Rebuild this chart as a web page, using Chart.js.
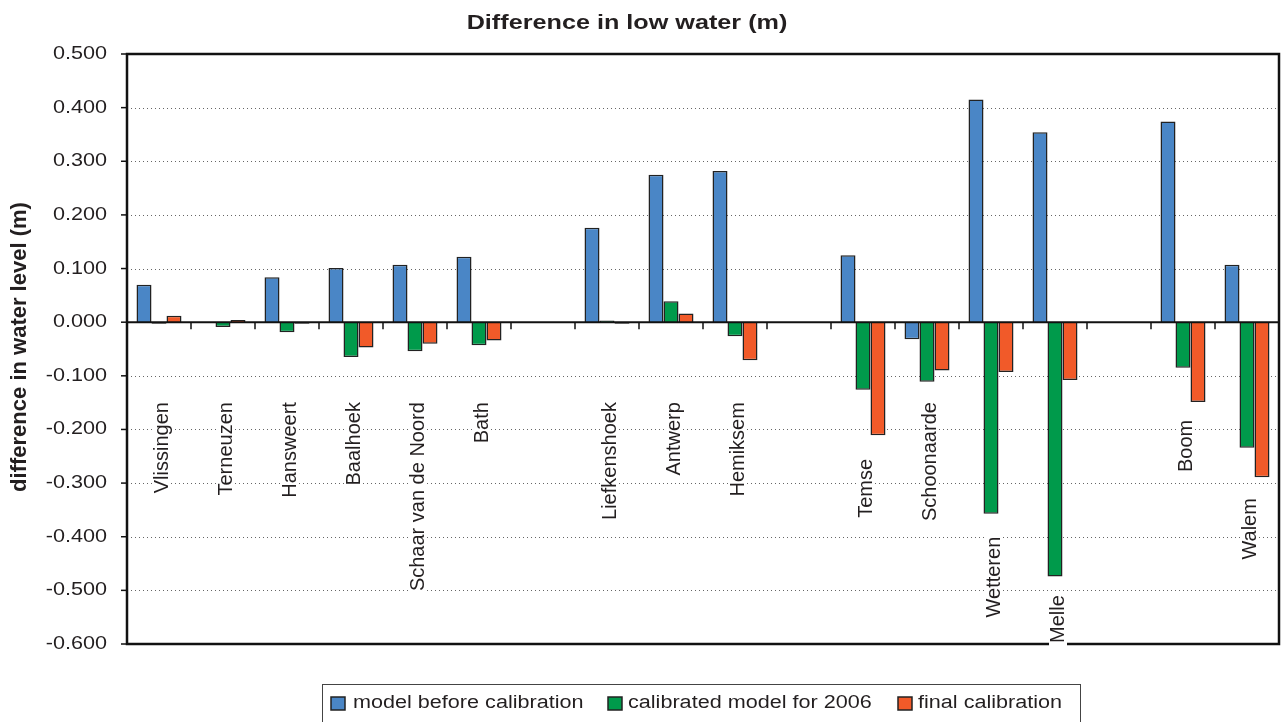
<!DOCTYPE html>
<html>
<head>
<meta charset="utf-8">
<script src="https://cdn.jsdelivr.net/npm/chart.js@4.4.0/dist/chart.umd.min.js"></script>
<style>
  body { margin: 0; background: #fff; }
  #wrap { width: 1281px; height: 722px; position: relative; }
</style>
</head>
<body>
<div id="wrap"><canvas id="lowWater"></canvas></div>
<script>
// stations along the estuary, empty strings are the gaps
const stations = ['Vlissingen', 'Terneuzen', 'Hansweert', 'Baalhoek', 'Schaar van de Noord', 'Bath', '',
    'Liefkenshoek', 'Antwerp', 'Hemiksem', '', 'Temse', 'Schoonaarde', 'Wetteren', 'Melle', '', 'Boom', 'Walem'];

const beforeCal = [0.070, null, 0.084, 0.101, 0.107, 0.122, null, 0.176, 0.275, 0.282, null, 0.125, -0.032, 0.415, 0.354, null, 0.374, 0.107];
const cal2006 = [-0.003, -0.009, -0.019, -0.065, -0.054, -0.043, null, 0.003, 0.039, -0.026, null, -0.126, -0.111, -0.357, -0.474, null, -0.085, -0.234];
const finalCal = [0.012, 0.004, -0.003, -0.047, -0.040, -0.034, null, -0.003, 0.016, -0.071, null, -0.211, -0.090, -0.093, -0.108, null, -0.149, -0.289];

const seriesNames = ['model before calibration', 'calibrated model for 2006', 'final calibration'];
const yTicks = [0.5, 0.4, 0.3, 0.2, 0.1, 0.0, -0.1, -0.2, -0.3, -0.4, -0.5, -0.6];

// where the (rotated) station names end, in axis units
const labelTop = [-0.149, -0.149, -0.149, -0.149, -0.149, -0.149, 0, -0.149, -0.149, -0.149, 0,
    -0.255, -0.149, -0.400, -0.509, 0, -0.182, -0.328];

const colors = ['#4a86c6', '#009a4b', '#f15a29'];
const FONT = '"Liberation Sans", Arial, sans-serif';
const SX = 1.2; // horizontal text in the source is stretched sideways

function stretchText(ctx, text, x, y, font, align, sx, rotate) {
    ctx.save();
    ctx.translate(x, y);
    ctx.scale(sx, 1);
    if (rotate) ctx.rotate(-Math.PI / 2);
    ctx.font = font;
    ctx.textAlign = align;
    ctx.textBaseline = 'middle';
    ctx.fillStyle = '#231f20';
    ctx.fillText(text, 0, 0);
    ctx.restore();
}

const decorations = {
    id: 'decorations',
    beforeDatasetsDraw(chart) {
        const ctx = chart.ctx, a = chart.chartArea, y = chart.scales.y;
        ctx.save();
        ctx.strokeStyle = '#666';
        ctx.lineWidth = 1;
        ctx.setLineDash([1, 3]);
        yTicks.forEach(function(t) {
            if (t === 0 || t === yTicks[0] || t === yTicks[yTicks.length - 1]) return;
            const py = Math.round(y.getPixelForValue(t)) + 0.5;
            ctx.beginPath();
            ctx.moveTo(a.left, py);
            ctx.lineTo(a.right, py);
            ctx.stroke();
        });
        ctx.restore();
    },
    afterDatasetsDraw(chart) {
        const ctx = chart.ctx, a = chart.chartArea, x = chart.scales.x, y = chart.scales.y;
        const zero = y.getPixelForValue(0);
        const cw = (a.right - a.left) / stations.length;

        ctx.save();
        ctx.strokeStyle = '#111';
        // zero line + category ticks
        ctx.lineWidth = 2;
        ctx.beginPath();
        ctx.moveTo(a.left, zero);
        ctx.lineTo(a.right, zero);
        ctx.stroke();
        ctx.lineWidth = 1.5;
        for (let k = 1; k < stations.length; k++) {
            const px = a.left + k * cw;
            ctx.beginPath();
            ctx.moveTo(px, zero);
            ctx.lineTo(px, zero + 7);
            ctx.stroke();
        }
        // frame
        ctx.lineWidth = 2.5;
        ctx.strokeRect(a.left, a.top, a.right - a.left, a.bottom - a.top);
        // y tick marks and labels
        ctx.lineWidth = 1.5;
        yTicks.forEach(function(t) {
            const py = y.getPixelForValue(t);
            ctx.beginPath();
            ctx.moveTo(a.left - 6, py);
            ctx.lineTo(a.left, py);
            ctx.stroke();
            stretchText(ctx, t.toFixed(3), 107, py, '18px ' + FONT, 'right', SX, false);
        });
        ctx.restore();

        // station names, rotated, inside the plot
        ctx.save();
        ctx.font = '20px ' + FONT;
        stations.forEach(function(name, i) {
            if (!name) return;
            const px = x.getPixelForValue(i) + 3;
            const py = y.getPixelForValue(labelTop[i]);
            const w = ctx.measureText(name).width;
            ctx.fillStyle = '#fff';
            ctx.fillRect(px - 9, py - 2, 18, w + 6);
            stretchText(ctx, name, px, py, '20px ' + FONT, 'right', 1, true);
        });
        ctx.restore();

        // title and y axis title
        stretchText(ctx, 'Difference in low water (m)', 627, 23, 'bold 21px ' + FONT, 'center', SX, false);
        stretchText(ctx, 'difference in water level (m)', 20, (a.top + a.bottom) / 2 - 2, 'bold 22px ' + FONT, 'center', 1, true);

        // legend box
        ctx.save();
        ctx.strokeStyle = '#444';
        ctx.lineWidth = 1;
        ctx.strokeRect(322.5, 684.5, 758, 60);
        const boxX = [331, 608, 898];
        const textX = [353, 628, 918];
        seriesNames.forEach(function(n, i) {
            ctx.fillStyle = colors[i];
            ctx.fillRect(boxX[i], 697, 14, 13);
            ctx.strokeStyle = '#222';
            ctx.lineWidth = 1.5;
            ctx.strokeRect(boxX[i], 697, 14, 13);
            stretchText(ctx, n, textX[i], 703, '18px ' + FONT, 'left', SX, false);
        });
        ctx.restore();
    }
};

document.addEventListener('DOMContentLoaded', function() {
    var ctx = document.getElementById('lowWater').getContext('2d');

    var data = {
        labels: stations,
        datasets: [beforeCal, cal2006, finalCal].map(function(vals, i) {
            return {
                label: seriesNames[i],
                data: vals,
                backgroundColor: colors[i],
                borderColor: '#222',
                borderWidth: 1.5,
                categoryPercentage: 0.703,
                barPercentage: 1.0
            };
        })
    };

    var options = {
        responsive: true,
        maintainAspectRatio: false,
        animation: false,
        layout: { padding: { top: 54, right: 2, bottom: 78, left: 0 } },
        plugins: {
            legend: { display: false },
            tooltip: { enabled: false }
        },
        scales: {
            x: { display: false },
            y: {
                min: yTicks[yTicks.length - 1],
                max: yTicks[0],
                ticks: { display: false, stepSize: 0.1 },
                grid: { display: false },
                border: { display: false },
                afterFit: function(s) { s.width = 127; }
            }
        }
    };

    new Chart(ctx, {
        type: 'bar',
        data: data,
        options: options,
        plugins: [decorations]
    });
});
</script>
</body>
</html>
